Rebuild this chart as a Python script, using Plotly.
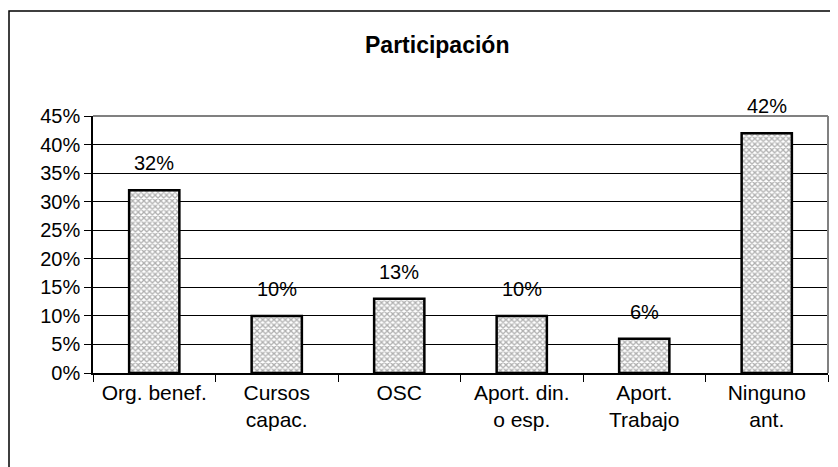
import plotly.graph_objects as go

categories = ["Org. benef.", "Cursos<br>capac.", "OSC", "Aport. din.<br>o esp.", "Aport.<br>Trabajo", "Ninguno<br>ant."]
values = [0.32, 0.10, 0.13, 0.10, 0.06, 0.42]
value_labels = ["32%", "10%", "13%", "10%", "6%", "42%"]
title_text = "Participación"

FONT = "Liberation Sans, Arial, sans-serif"
# the page body adds an 8px offset, so the figure is sized to fit the window
W, H = 830, 459
L, R, T, B = 85, 10, 108, 94
PW = W - L - R
PH = H - T - B

fig = go.Figure()
fig.add_trace(go.Bar(
    x=categories, y=values,
    marker=dict(color="white",
                line=dict(color="black", width=2.5),
                pattern=dict(shape="x", size=4, solidity=0.55, fgcolor="#606060", bgcolor="white")),
    hoverinfo="skip",
))

for c, v, t in zip(categories, values, value_labels):
    fig.add_annotation(x=c, y=v, text=t, showarrow=False, yanchor="bottom", yshift=14,
                       font=dict(family=FONT, size=20, color="black"))

fig.add_annotation(x=(429 - L) / PW, y=1 + (T - 37) / PH, xref="paper", yref="paper",
                   text="<b>" + title_text + "</b>", showarrow=False, xanchor="center", yanchor="middle",
                   font=dict(family=FONT, size=23, color="black"))

# outer chart border
fig.add_shape(type="rect", xref="paper", yref="paper",
              x0=(1 - L) / PW, x1=1.05, y0=-0.6, y1=1 + (T - 3) / PH,
              line=dict(color="black", width=1.5), layer="below")
# gray plot-area frame (top and right)
fig.add_shape(type="line", xref="paper", yref="paper", x0=0, x1=1, y0=1, y1=1,
              line=dict(color="#808080", width=2), layer="above")
fig.add_shape(type="line", xref="paper", yref="paper", x0=1, x1=1, y0=0, y1=1,
              line=dict(color="#808080", width=2), layer="above")

fig.update_layout(
    width=W, height=H,
    margin=dict(l=L, r=R, t=T, b=B),
    paper_bgcolor="white", plot_bgcolor="white",
    showlegend=False,
    bargap=0.59,
    font=dict(family=FONT, size=20, color="black"),
)
fig.update_xaxes(type="category", tickson="boundaries", ticks="outside", ticklen=7,
                 tickcolor="black", showline=True, linecolor="black", linewidth=1.5,
                 showgrid=False, tickfont=dict(family=FONT, size=21, color="black"))
fig.update_yaxes(range=[0, 0.45], dtick=0.05, tickformat=".0%", ticks="outside", ticklen=7,
                 tickcolor="black", showline=True, linecolor="black", linewidth=1.5,
                 showgrid=True, gridcolor="black", gridwidth=1, zeroline=False,
                 tickfont=dict(family=FONT, size=20, color="black"))

fig.write_html("out.html")
